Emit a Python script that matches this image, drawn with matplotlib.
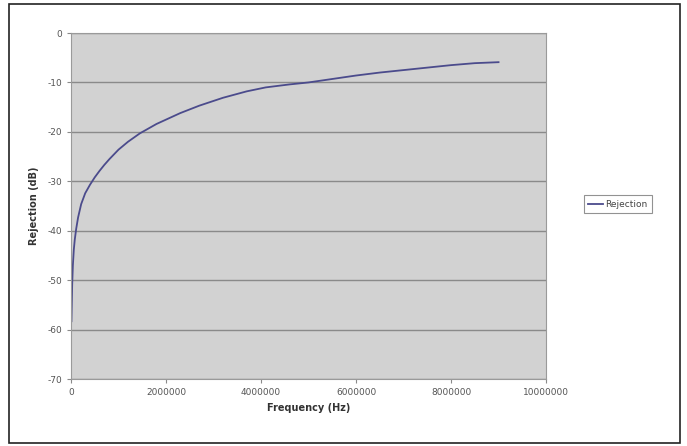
import matplotlib
matplotlib.use("Agg")
import matplotlib.pyplot as plt
from matplotlib.patches import Rectangle

plt.rcParams["axes.unicode_minus"] = False

# frequency sweep (Hz) and measured rejection (dB)
freq_hz = [10000, 25000, 40000, 60000, 80000, 110000, 150000, 215000, 300000,
           400000, 500000, 600000, 700000, 810000, 1000000, 1200000, 1450000,
           1800000, 2300000, 2700000, 3200000, 3700000, 4100000, 4600000,
           5000000, 5500000, 6000000, 6500000, 7000000, 7500000, 8000000,
           8500000, 9000000]
rejection_db = [-58.3, -51.0, -47.0, -43.8, -41.8, -39.6, -37.3, -34.6, -32.4,
                -30.7, -29.2, -27.9, -26.7, -25.5, -23.6, -22.0, -20.3,
                -18.4, -16.2, -14.7, -13.1, -11.8, -11.0, -10.4,
                -10.0, -9.3, -8.6, -8.0, -7.5, -7.0, -6.5,
                -6.1, -5.9]

x_ticks = [0, 2000000, 4000000, 6000000, 8000000, 10000000]
y_ticks = [0, -10, -20, -30, -40, -50, -60, -70]

fig = plt.figure(figsize=(6.87, 4.46), dpi=100)
fig.patch.set_facecolor("white")
ax = fig.add_axes([0.1033, 0.150, 0.6915, 0.776])
ax.set_facecolor("#d2d2d2")

ax.plot(freq_hz, rejection_db, color="#4b4b8c", lw=1.3, label="Rejection")

ax.set_xlim(0, 10000000)
ax.set_ylim(-70, 0)
ax.set_xticks(x_ticks)
ax.set_xticklabels([str(v) for v in x_ticks])
ax.set_yticks(y_ticks)
ax.yaxis.grid(True, color="#8a8a8a", lw=1.0)
ax.set_axisbelow(True)
ax.tick_params(labelsize=6.5, colors="#8a8a8a", labelcolor="#555555",
               length=3, width=0.8)
for s in ax.spines.values():
    s.set_color("#9a9a9a")
    s.set_linewidth(0.8)

ax.set_xlabel("Frequency (Hz)", fontsize=7, fontweight="bold", color="#333333",
              labelpad=4)
ax.set_ylabel("Rejection (dB)", fontsize=7, fontweight="bold", color="#333333",
              labelpad=6)

leg = ax.legend(loc="center left", bbox_to_anchor=(1.07, 0.505), fontsize=6.5,
                frameon=True, fancybox=False, handlelength=1.6,
                borderpad=0.5, handletextpad=0.3)
leg.get_frame().set_edgecolor("#777777")
leg.get_frame().set_linewidth(0.8)
for t in leg.get_texts():
    t.set_color("#444444")

# outer chart border
fig.patches.append(Rectangle((0.013, 0.007), 0.977, 0.984, transform=fig.transFigure,
                             fill=False, edgecolor="#222222", lw=1.2))

fig.savefig("out.png", dpi=100)
